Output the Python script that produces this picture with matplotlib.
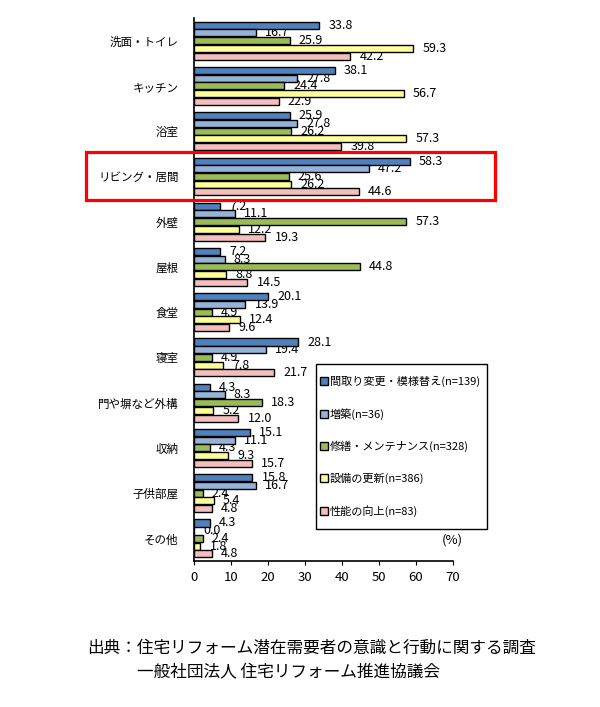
import numpy as np
import matplotlib
matplotlib.use("Agg")
from matplotlib import pyplot as plt
from matplotlib.patches import Rectangle
from matplotlib.font_manager import FontProperties

plt.rcParams['font.family'] = ['Noto Sans CJK JP', 'DejaVu Sans']

#categories (top to bottom)
categories = ['洗面・トイレ', 'キッチン', '浴室', 'リビング・居間', '外壁', '屋根',
              '食堂', '寝室', '門や塀など外構', '収納', '子供部屋', 'その他']

series_names = ['間取り変更・模様替え(n=139)', '増築(n=36)', '修繕・メンテナンス(n=328)',
                '設備の更新(n=386)', '性能の向上(n=83)']

layout_change = [33.8, 38.1, 25.9, 58.3, 7.2, 7.2, 20.1, 28.1, 4.3, 15.1, 15.8, 4.3]
extension     = [16.7, 27.8, 27.8, 47.2, 11.1, 8.3, 13.9, 19.4, 8.3, 11.1, 16.7, 0.0]
repair        = [25.9, 24.4, 26.2, 25.6, 57.3, 44.8, 4.9, 4.9, 18.3, 4.3, 2.4, 2.4]
equipment     = [59.3, 56.7, 57.3, 26.2, 12.2, 8.8, 12.4, 7.8, 5.2, 9.3, 5.4, 1.8]
performance   = [42.2, 22.9, 39.8, 44.6, 19.3, 14.5, 9.6, 21.7, 12.0, 15.7, 4.8, 4.8]

x_ticks = [0, 10, 20, 30, 40, 50, 60, 70]

all_series = [layout_change, extension, repair, equipment, performance]
colors = ['#4F81BD', '#95B3D7', '#9BBB59', '#FFFF99', '#F2BEBE']

fig = plt.figure(figsize=(6, 7.07), dpi=100)
ax = fig.add_axes([0.323, 0.2065, 0.432, 0.768])

y = np.arange(len(categories))
slot = 0.17
bar_h = 0.155
for k, (vals, col, name) in enumerate(zip(all_series, colors, series_names)):
    pos = y - 2 * slot + k * slot
    ax.barh(pos, vals, height=bar_h, color=col, edgecolor='black', linewidth=1.0,
            label=name, zorder=3)
    for p, v in zip(pos, vals):
        ax.text(v + 2.5, p, '%.1f' % v, va='center', ha='left', fontsize=9, zorder=2)

ax.set_ylim(len(categories) - 0.5, -0.5)
ax.set_xlim(0, 70)
ax.set_yticks(y)
ax.set_yticklabels(categories, fontsize=8.3)
ax.set_xticks(x_ticks)
ax.set_xticklabels([str(t) for t in x_ticks], fontsize=9.5)
ax.tick_params(axis='y', direction='in', length=2, pad=11)
ax.tick_params(axis='x', direction='out', length=3, pad=4)
ax.spines['top'].set_visible(False)
ax.spines['right'].set_visible(False)
ax.spines['left'].set_linewidth(1.2)
ax.spines['bottom'].set_linewidth(1.2)

#legend box drawn by hand so the padding can differ left/right vs top/bottom
ax.add_patch(Rectangle((0.471, 0.059), 0.660, 0.304, transform=ax.transAxes,
                       facecolor='white', edgecolor='black', linewidth=1.0,
                       clip_on=False, zorder=4))
# narrow latin font for the (n=...) part, CJK falls through to Noto
leg_font = FontProperties(family=['Liberation Sans Narrow', 'Noto Sans CJK JP'], size=8)
leg = ax.legend(loc='upper left', bbox_to_anchor=(0.486, 0.341), prop=leg_font,
                frameon=False, labelspacing=1.88,
                handlelength=0.7, handleheight=0.7, handletextpad=0.2,
                borderpad=0, borderaxespad=0)
leg.set_zorder(5)

ax.text(0.999, 0.039, '(%)', transform=ax.transAxes, ha='center', va='center', fontsize=9.5)

#red highlight box
fig.patches.append(Rectangle((0.143, 0.717), 0.682, 0.068, transform=fig.transFigure,
                             fill=False, edgecolor='#FF0000', linewidth=2.3))

fig.text(0.145, 0.083, '出典：住宅リフォーム潜在需要者の意識と行動に関する調査', fontsize=12,
         ha='left', va='center')
fig.text(0.228, 0.048, '一般社団法人 住宅リフォーム推進協議会', fontsize=12,
         ha='left', va='center')

plt.savefig('out.png', dpi=100)
